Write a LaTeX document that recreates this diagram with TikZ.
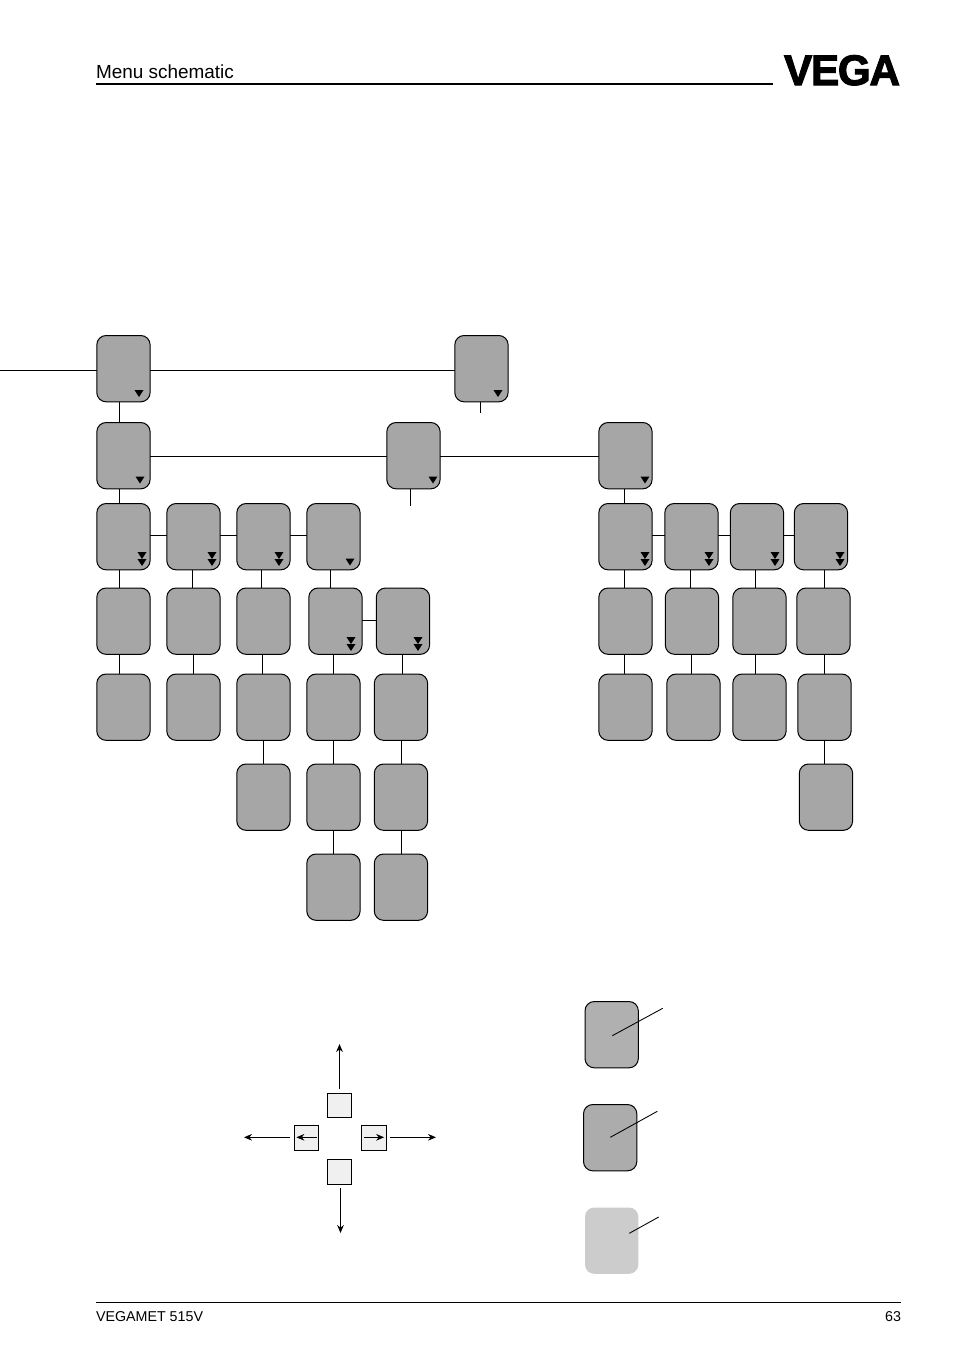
\documentclass[tikz,border=0pt]{standalone}
\usepackage{fontspec}
\setmainfont{Liberation Sans}
\newfontfamily\logofont[FakeBold=2.5,LetterSpace=-3]{Liberation Sans Bold}
\usetikzlibrary{arrows.meta}
\tikzset{
  menubox/.style={draw=black,fill=boxgrey,line width=0.75pt,rounded corners=7pt,minimum width=40pt,minimum height=49.75pt,inner sep=0pt,outer sep=0pt,anchor=north west,yshift=0.375pt},
  keybox/.style={draw=black,fill=keygrey,line width=0.7pt,minimum size=18.4pt,inner sep=0pt,outer sep=0pt,anchor=north west},
  link/.style={draw=black,line width=0.62pt},
  keyarrow/.style={draw=black,line width=0.7pt,-{Stealth[length=6pt,width=5pt]}},
  leader/.style={draw=black,line width=0.65pt},
  label/.style={inner sep=0pt,outer sep=0pt,font=\fontsize{14.2pt}{16pt}\selectfont}
}
\definecolor{boxgrey}{HTML}{A6A6A6}
\definecolor{keygrey}{HTML}{F0F0F0}
\definecolor{legendone}{HTML}{B0B0B0}
\definecolor{legendtwo}{HTML}{ACACAC}
\definecolor{legendthree}{HTML}{CCCCCC}
\newcommand{\mb}[3]{\node[menubox] (#1) at (#2,#3) {};}
\newcommand{\vlink}[3]{\draw[link] (perpendicular cs:horizontal line through={(#1.south)},vertical line through={(#3,0)}) -- (perpendicular cs:horizontal line through={(#2.north)},vertical line through={(#3,0)});}
\newcommand{\hlink}[3]{\draw[link] (perpendicular cs:vertical line through={(#1.east)},horizontal line through={(0,#3)}) -- (perpendicular cs:vertical line through={(#2.west)},horizontal line through={(0,#3)});}
\newcommand{\tri}[2]{\fill[black] (#1-4.5,#2) -- (#1+4.5,#2) -- (#1,#2+7) -- cycle;}
\newcommand{\dtri}[2]{\tri{#1}{#2}\tri{#1}{#2+7}}
\begin{document}
\begin{tikzpicture}[x=0.75pt,y=-0.75pt]
\useasboundingbox (0,0) rectangle (954,1354);
\fill[white] (0,0) rectangle (954,1354);
% header
\node[label,anchor=base west] (title) at (96,78) {Menu schematic};
\coordinate (hrA) at (96,84); \coordinate (hrB) at (773,84);
\draw[black,line width=1.6pt] (hrA) -- (hrB);
\node[inner sep=0pt,outer sep=0pt,anchor=base,xscale=0.99,font=\logofont\fontsize{32pt}{36pt}\selectfont] (logo) at (842,85) {VEGA};
% boxes
\mb{a}{96.8}{336} \mb{b}{454.8}{336}
\mb{c}{96.8}{423} \mb{d}{386.8}{423} \mb{e}{598.8}{423}
\mb{f1}{96.8}{504} \mb{f2}{166.8}{504} \mb{f3}{236.8}{504} \mb{f4}{306.8}{504}
\mb{g1}{598.8}{504} \mb{g2}{664.8}{504} \mb{g3}{730.3}{504} \mb{g4}{794.3}{504}
\mb{h1}{96.8}{588.5} \mb{h2}{166.8}{588.5} \mb{h3}{236.8}{588.5} \mb{h4}{308.8}{588.5} \mb{h5}{376.3}{588.5}
\mb{i1}{598.8}{588.5} \mb{i2}{665.3}{588.5} \mb{i3}{732.8}{588.5} \mb{i4}{796.8}{588.5}
\mb{j1}{96.8}{674.5} \mb{j2}{166.8}{674.5} \mb{j3}{236.8}{674.5} \mb{j4}{306.8}{674.5} \mb{j5}{374.3}{674.5}
\mb{k1}{598.8}{674.5} \mb{k2}{666.8}{674.5} \mb{k3}{732.8}{674.5} \mb{k4}{797.8}{674.5}
\mb{l3}{236.8}{764.5} \mb{l4}{306.8}{764.5} \mb{l5}{374.3}{764.5} \mb{m4}{799.3}{764.5}
\mb{n4}{306.8}{854.5} \mb{n5}{374.3}{854.5}
% free ends
\coordinate (leftend) at (0,370);
\coordinate (bstub) at (480,413);
\coordinate (dstub) at (410,506);
\draw[link] (leftend) -- (a.west |- leftend);
\hlink{a}{b}{370}
\hlink{c}{d}{456}
\hlink{d}{e}{456}
\draw[link] (b.south -| bstub) -- (bstub);
\draw[link] (d.south -| dstub) -- (dstub);
\vlink{a}{c}{119}
\vlink{c}{f1}{119}
\vlink{e}{g1}{624}
\hlink{f1}{f2}{535} \hlink{f2}{f3}{535} \hlink{f3}{f4}{535}
\hlink{g1}{g2}{535} \hlink{g2}{g3}{535} \hlink{g3}{g4}{535}
\hlink{h4}{h5}{620}
\vlink{f1}{h1}{119} \vlink{f2}{h2}{192} \vlink{f3}{h3}{261} \vlink{f4}{h4}{330}
\vlink{g1}{i1}{624} \vlink{g2}{i2}{690} \vlink{g3}{i3}{755} \vlink{g4}{i4}{824}
\vlink{h1}{j1}{119} \vlink{h2}{j2}{193} \vlink{h3}{j3}{262} \vlink{h4}{j4}{333} \vlink{h5}{j5}{402}
\vlink{i1}{k1}{624} \vlink{i2}{k2}{691} \vlink{i3}{k3}{755} \vlink{i4}{k4}{824}
\vlink{j3}{l3}{263} \vlink{j4}{l4}{333} \vlink{j5}{l5}{401} \vlink{k4}{m4}{824}
\vlink{l4}{n4}{333} \vlink{l5}{n5}{401}
% markers
\tri{139}{390} \tri{498}{390}
\tri{140}{476.5} \tri{433}{476.5} \tri{645}{476.5}
\dtri{142}{552} \dtri{212}{552} \dtri{279}{552} \tri{350}{558.5}
\dtri{645}{552} \dtri{709}{552} \dtri{775}{552} \dtri{840}{552}
\dtri{351}{637} \dtri{418}{637}
% keys
\node[keybox] (kup) at (327.4,1093.4) {};
\node[keybox] (kleft) at (294.4,1125.6) {};
\node[keybox] (kright) at (361.6,1125.6) {};
\node[keybox] (kdown) at (327.4,1159.6) {};
\coordinate (up) at (339.5,1044); \coordinate (down) at (340.5,1233);
\coordinate (lft) at (244,1137.3); \coordinate (rgt) at (436,1137.3);
\draw[keyarrow] ([yshift=3pt]kup.north -| up) -- (up);
\draw[keyarrow] ([yshift=-3pt]kdown.south -| down) -- (down);
\draw[keyarrow] ([xshift=-3pt]kleft.west |- lft) -- (lft);
\draw[keyarrow] ([xshift=3pt]kright.east |- rgt) -- (rgt);
\draw[keyarrow] ([xshift=-1.5pt]kleft.east |- lft) -- ([xshift=1.5pt]kleft.west |- lft);
\draw[keyarrow] ([xshift=1.5pt]kright.west |- rgt) -- ([xshift=-1.5pt]kright.east |- rgt);
% legend
\node[menubox,fill=legendone] (la) at (585,1002) {};
\node[menubox,fill=legendtwo] (lb) at (583.5,1105) {};
\node[menubox,fill=legendthree,draw=none] (lc) at (585,1208) {};
\coordinate (la1) at (612.3,1035.7); \coordinate (la2) at (662.7,1008.3);
\coordinate (lb1) at (610.3,1137.3); \coordinate (lb2) at (657.3,1111.3);
\coordinate (lc1) at (629.3,1233.3); \coordinate (lc2) at (658.7,1217);
\draw[leader] (la1) -- (la2);
\draw[leader] (lb1) -- (lb2);
\draw[leader] (lc1) -- (lc2);
% footer
\coordinate (frA) at (96,1302); \coordinate (frB) at (901,1302);
\draw[black,line width=0.6pt] (frA) -- (frB);
\node[label,anchor=base west,font=\fontsize{10.7pt}{13pt}\selectfont] (ftl) at (96,1321) {VEGAMET 515V};
\node[label,anchor=base east,font=\fontsize{10.7pt}{13pt}\selectfont] (ftr) at (901,1321) {63};
\end{tikzpicture}
\end{document}
